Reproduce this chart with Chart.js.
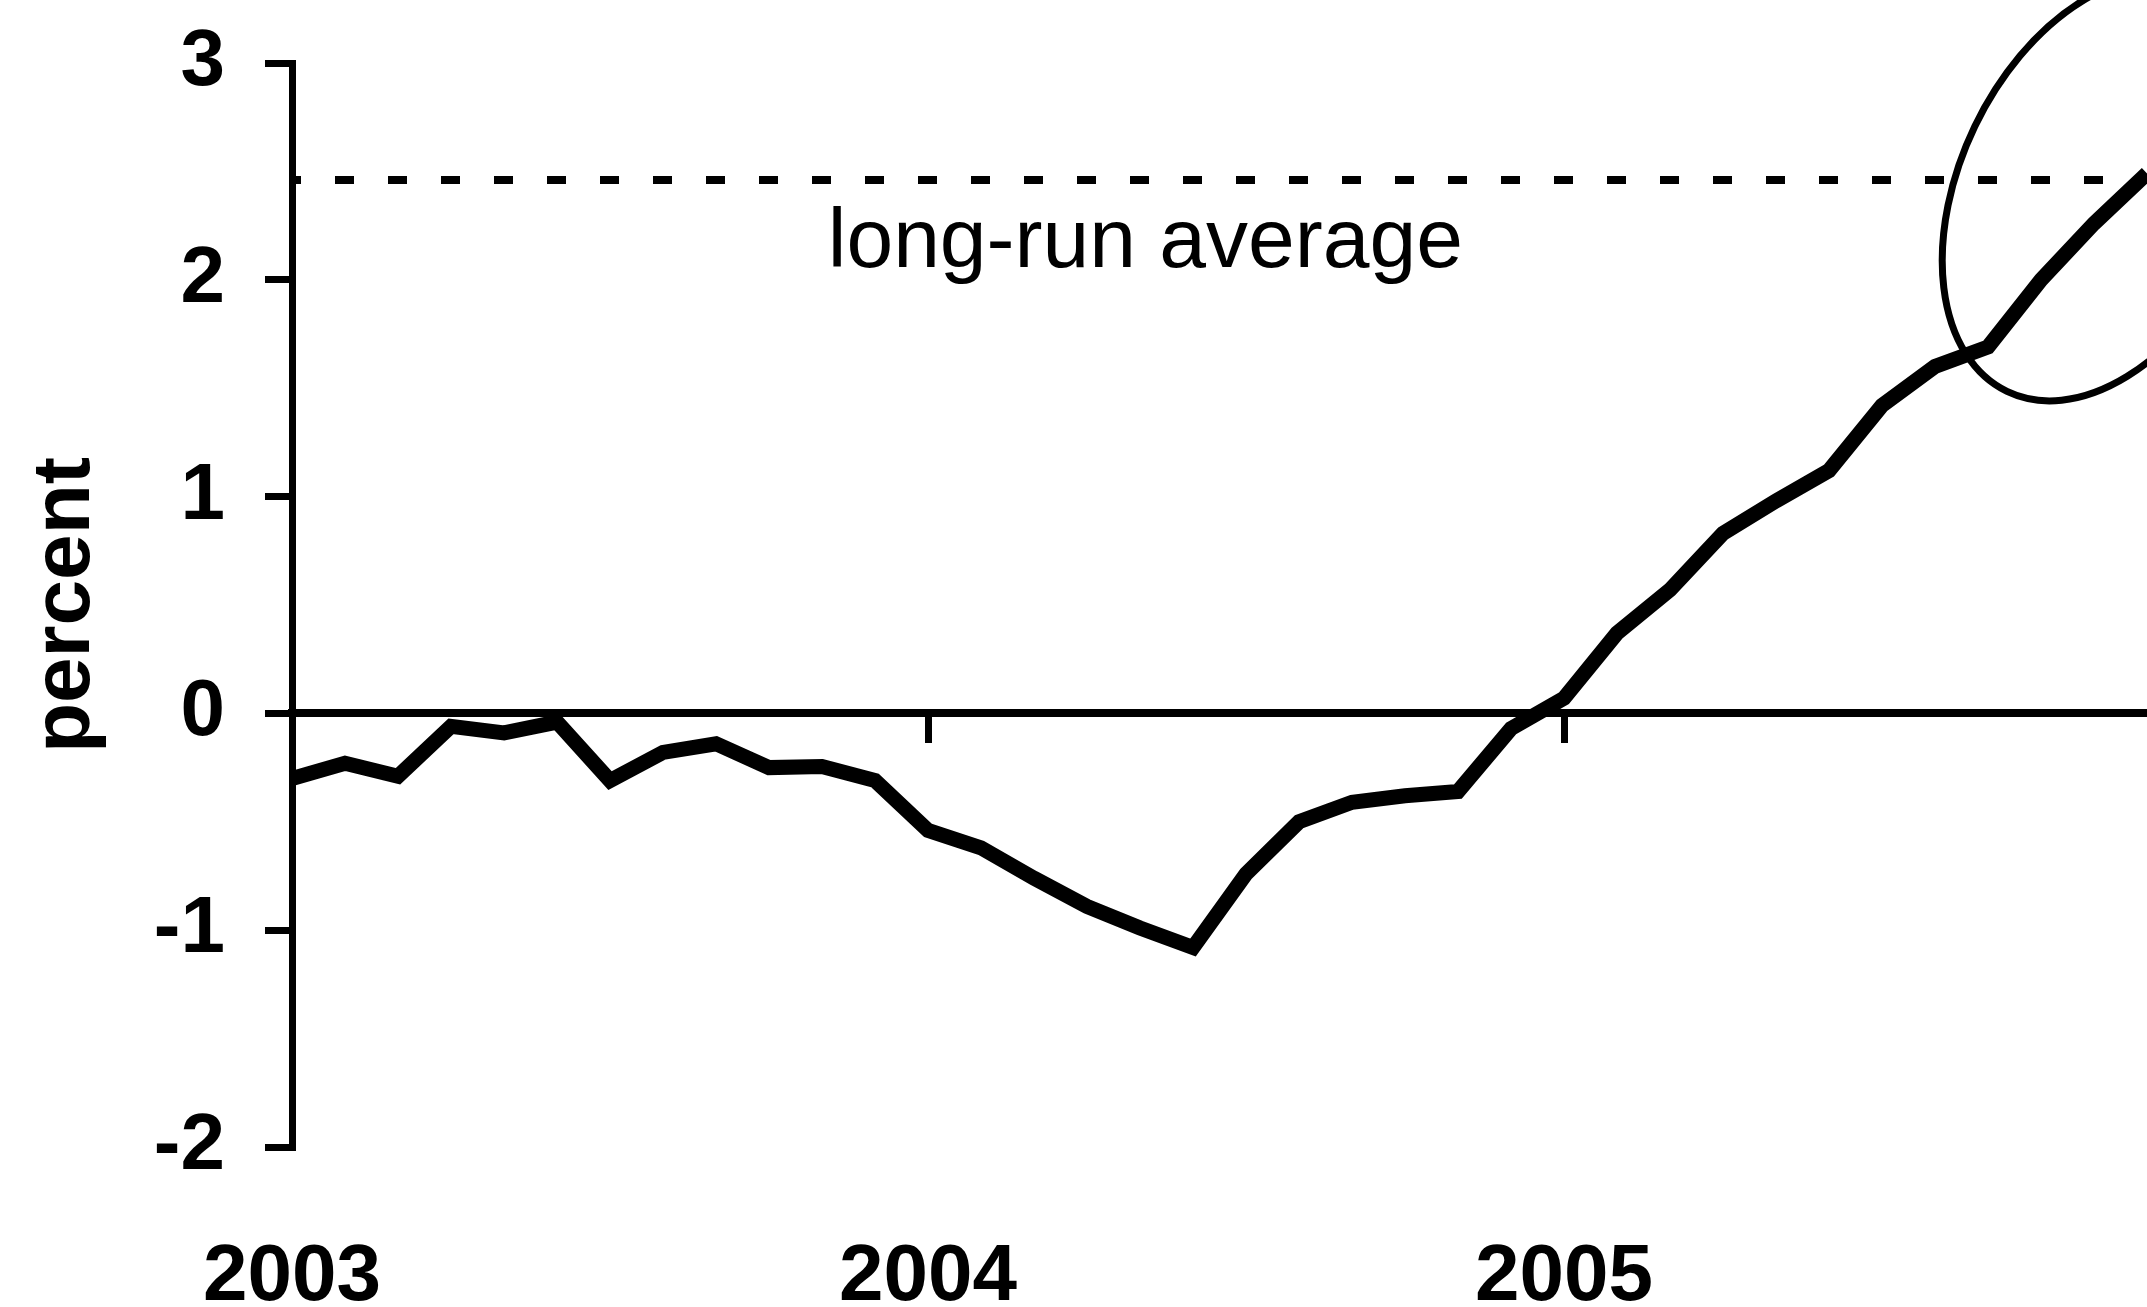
<!DOCTYPE html>
<html>
<head>
<meta charset="utf-8">
<title>percent</title>
<script src="https://cdn.jsdelivr.net/npm/chart.js@4/dist/chart.umd.min.js"></script>
<style>
  html, body { margin: 0; padding: 0; background: #fff; }
  canvas { display: block; }
</style>
</head>
<body>
<canvas id="chart" width="2147" height="1307"></canvas>
<script>
// Monthly series, Jan 2003 - Dec 2005
const months = [
  "2003-01", "2003-02", "2003-03", "2003-04", "2003-05", "2003-06",
  "2003-07", "2003-08", "2003-09", "2003-10", "2003-11", "2003-12",
  "2004-01", "2004-02", "2004-03", "2004-04", "2004-05", "2004-06",
  "2004-07", "2004-08", "2004-09", "2004-10", "2004-11", "2004-12",
  "2005-01", "2005-02", "2005-03", "2005-04", "2005-05", "2005-06",
  "2005-07", "2005-08", "2005-09", "2005-10", "2005-11", "2005-12"
];
const values = [
  -0.30, -0.23, -0.29, -0.06, -0.09, -0.04, -0.31, -0.18, -0.14, -0.25, -0.245, -0.31,
  -0.54, -0.62, -0.76, -0.89, -0.99, -1.08, -0.74, -0.50, -0.41, -0.38, -0.36, -0.07,
  0.07, 0.37, 0.57, 0.83, 0.98, 1.12, 1.42, 1.60, 1.69, 2.00, 2.26, 2.49
];
const yearLabels = ["2003", "2004", "2005"];
const yearStarts = ["2003-01", "2004-01", "2005-01"];
const yTicks = [-2, -1, 0, 1, 2, 3];
const longRunAverage = 2.46;
const averageLabel = "long-run average";

// where the note and the hand drawn ring sit, in chart units
const labelSpot = { month: 16.1, value: 2.06 };
const ringSpot = { month: 34.2, value: 2.42 };

const fontFamily = "'Liberation Sans', Arial, Helvetica, sans-serif";
const yearIndex = yearStarts.map(m => months.indexOf(m));
const points = values.map((v, i) => ({ x: i, y: v }));

function setYearTicks(scale) {
  scale.ticks = yearIndex.map(v => ({ value: v }));
}

//Draws the text note and the ring round the last months
const extras = {
  id: "extras",
  afterDatasetsDraw(chart) {
    const x = chart.scales.x;
    const y = chart.scales.y;
    const ctx = chart.ctx;
    ctx.save();
    ctx.fillStyle = "#000";
    ctx.font = "84px " + fontFamily;
    ctx.textAlign = "center";
    ctx.textBaseline = "alphabetic";
    ctx.fillText(averageLabel, x.getPixelForValue(labelSpot.month), y.getPixelForValue(labelSpot.value));

    ctx.strokeStyle = "#000";
    ctx.lineWidth = 7;
    ctx.beginPath();
    ctx.ellipse(x.getPixelForValue(ringSpot.month), y.getPixelForValue(ringSpot.value), 225, 144, -1.122, 0, Math.PI * 2);
    ctx.stroke();
    ctx.restore();
  }
};

const context = document.getElementById("chart").getContext("2d");
new Chart(context, {
  type: "line",
  data: {
    datasets: [
      {
        label: "percent",
        data: points,
        borderColor: "#000",
        borderWidth: 15,
        pointRadius: 0,
        tension: 0,
        fill: false
      },
      {
        label: averageLabel,
        data: [{ x: 0, y: longRunAverage }, { x: months.length - 1, y: longRunAverage }],
        borderColor: "#000",
        borderWidth: 8,
        borderDash: [19, 34],
        borderDashOffset: 10,
        pointRadius: 0,
        fill: false
      }
    ]
  },
  options: {
    responsive: false,
    devicePixelRatio: 1,
    animation: false,
    layout: { padding: { top: 63, right: 0, bottom: 0, left: 0 } },
    plugins: {
      legend: { display: false },
      tooltip: { enabled: false }
    },
    scales: {
      x: {
        type: "linear",
        position: "bottom",
        min: 0,
        max: months.length - 1,
        afterBuildTicks: setYearTicks,
        afterFit(scale) {
          scale.height = 160;
          scale.paddingLeft = 0;
          scale.paddingRight = 0;
        },
        grid: { display: false },
        border: { display: false },
        ticks: {
          color: "#000",
          font: { family: fontFamily, size: 80, weight: "bold" },
          padding: 75,
          maxRotation: 0,
          autoSkip: false,
          callback: (v) => yearLabels[yearIndex.indexOf(v)]
        }
      },
      x0: {
        type: "linear",
        axis: "x",
        position: { y: 0 },
        min: 0,
        max: months.length - 1,
        afterBuildTicks: setYearTicks,
        grid: { drawOnChartArea: false, drawTicks: true, tickLength: 26, lineWidth: 7, color: "#000" },
        border: { display: true, width: 8, color: "#000" },
        ticks: { display: false }
      },
      y: {
        type: "linear",
        position: "left",
        min: -2,
        max: 3,
        afterBuildTicks(scale) {
          scale.ticks = yTicks.map(v => ({ value: v }));
        },
        afterFit(scale) {
          scale.width = 292;
          scale.paddingTop = 0;
          scale.paddingBottom = 0;
        },
        grid: { drawOnChartArea: false, tickLength: 27, lineWidth: 7, color: "#000" },
        border: { width: 7, color: "#000" },
        ticks: {
          color: "#000",
          font: { family: fontFamily, size: 80, weight: "bold" },
          padding: 40
        },
        title: {
          display: true,
          text: "percent",
          color: "#000",
          font: { family: fontFamily, size: 82, weight: "bold" },
          padding: { top: 17, bottom: 0 }
        }
      }
    }
  },
  plugins: [extras]
});
</script>
</body>
</html>
